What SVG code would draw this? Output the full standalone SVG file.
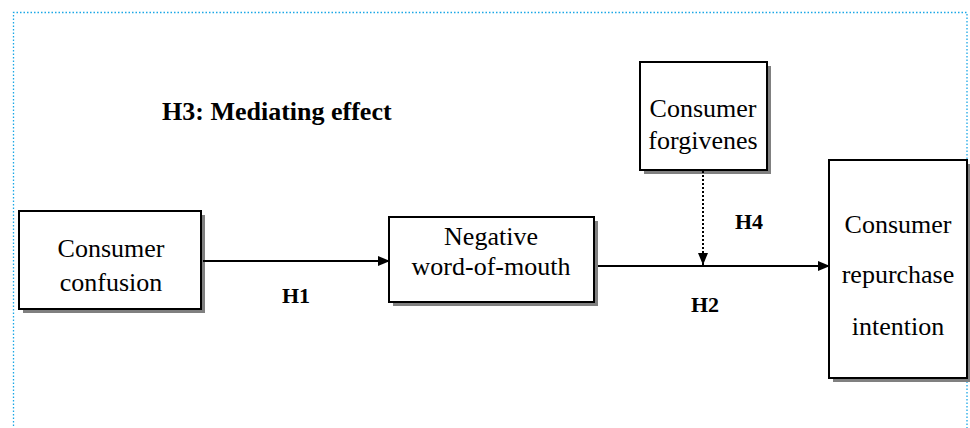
<svg xmlns="http://www.w3.org/2000/svg" width="970" height="428" viewBox="0 0 970 428">
<defs>
<marker id="arr" viewBox="0 0 12 10" refX="12" refY="5" markerWidth="12" markerHeight="10" markerUnits="userSpaceOnUse" orient="auto">
<path d="M0,0 L12,5 L0,10 Z" fill="#000"/>
</marker>
</defs>
<style>
.box{fill:#fff;stroke:#000;stroke-width:2}
.shadow{fill:#808080}
.t{font-family:"Liberation Serif","Times New Roman",serif;font-size:26px;fill:#000;text-anchor:middle}
.lbl{font-family:"Liberation Serif","Times New Roman",serif;font-size:22px;font-weight:bold;fill:#000}
.edge{stroke:#000;stroke-width:2;fill:none}
</style>
<rect width="970" height="428" fill="#fff"/>
<path d="M13.5,440 V12.5 H967 V440" fill="none" stroke="#1aa7e6" stroke-width="1.3" stroke-dasharray="1.5 2"/>
<text x="162" y="120" class="lbl" style="font-size:26px">H3: Mediating effect</text>
<g id="consumer-confusion">
<rect class="shadow" x="23" y="215" width="182" height="98"/>
<rect class="box" x="19" y="211" width="182" height="98"/>
<text class="t" x="111" y="257">Consumer</text>
<text class="t" x="111" y="291">confusion</text>
</g>
<g id="negative-wom">
<rect class="shadow" x="393" y="221" width="205" height="85"/>
<rect class="box" x="389" y="217" width="205" height="85"/>
<text class="t" x="491" y="245">Negative</text>
<text class="t" x="491" y="275">word-of-mouth</text>
</g>
<g id="consumer-forgiveness">
<rect class="shadow" x="644" y="66" width="127" height="108"/>
<rect class="box" x="640" y="62" width="127" height="108"/>
<text class="t" x="703" y="117">Consumer</text>
<text class="t" x="703" y="149">forgivenes</text>
</g>
<g id="repurchase-intention">
<rect class="shadow" x="833" y="164" width="139" height="218"/>
<rect class="box" x="829" y="160" width="138" height="218"/>
<text class="t" x="898" y="233">Consumer</text>
<text class="t" x="898" y="283">repurchase</text>
<text class="t" x="898" y="335">intention</text>
</g>
<g id="connectors">
<line class="edge" x1="203" y1="261" x2="390" y2="261" marker-end="url(#arr)"/>
<line class="edge" x1="598" y1="266" x2="830" y2="266" marker-end="url(#arr)"/>
<line class="edge" x1="703" y1="171" x2="703" y2="265" stroke-dasharray="2 2" marker-end="url(#arr)"/>
<text class="lbl" x="282" y="303">H1</text>
<text class="lbl" x="691" y="312">H2</text>
<text class="lbl" x="735" y="229">H4</text>
</g>
</svg>
